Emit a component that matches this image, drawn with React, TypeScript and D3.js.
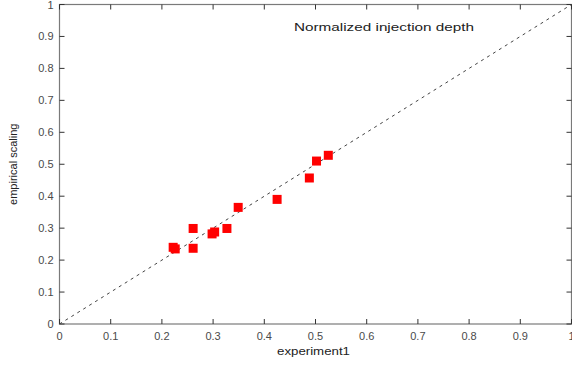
import React from "react";
import * as d3 from "d3";

// Measured vs. empirically scaled normalized injection depth
const experimentValues = [0.222, 0.226, 0.261, 0.261, 0.298, 0.303, 0.327, 0.349, 0.425, 0.488, 0.502, 0.525];
const scalingValues = [0.240, 0.235, 0.299, 0.237, 0.282, 0.288, 0.299, 0.365, 0.390, 0.457, 0.510, 0.528];
const tickValues = [0, 0.1, 0.2, 0.3, 0.4, 0.5, 0.6, 0.7, 0.8, 0.9, 1];
const tickLabels = ["0", "0.1", "0.2", "0.3", "0.4", "0.5", "0.6", "0.7", "0.8", "0.9", "1"];
const parityLine = [0, 1];

const W = 572;
const H = 365;
const left = 59.5;
const right = 571.5;
const top = 4.5;
const bottom = 324;

export default function App() {
  const x = d3.scaleLinear().domain([0, 1]).range([left, right]);
  const y = d3.scaleLinear().domain([0, 1]).range([bottom, top]);
  const line = d3
    .line<number>()
    .x((d) => x(d))
    .y((d) => y(d));

  const axisColor = "#7a7a7a";
  const textColor = "#4a4a4a";
  const font = "'Liberation Sans', Arial, sans-serif";
  const tickLen = 5;
  const sq = 9;

  return (
    <svg
      width={W}
      height={H}
      style={{ position: "absolute", left: 0, top: 0, background: "#fff" }}
      fontFamily={font}
    >
      {/* plot box */}
      <rect x={left} y={top} width={right - left} height={bottom - top} fill="none" stroke={axisColor} strokeWidth={1.2} />

      {/* inward ticks on all four sides */}
      {tickValues.map((t, i) => (
        <g key={"t" + i} stroke="#333" strokeWidth={1}>
          <line x1={x(t)} x2={x(t)} y1={bottom} y2={bottom - tickLen} />
          <line x1={x(t)} x2={x(t)} y1={top} y2={top + tickLen} />
          <line x1={left} x2={left + tickLen} y1={y(t)} y2={y(t)} />
          <line x1={right} x2={right - tickLen} y1={y(t)} y2={y(t)} />
        </g>
      ))}

      {/* x tick labels */}
      {tickValues.map((t, i) => (
        <text key={"xl" + i} x={x(t)} y={bottom + 16} textAnchor="middle" fontSize={11} fill={textColor}>
          {tickLabels[i]}
        </text>
      ))}

      {/* y tick labels */}
      {tickValues.map((t, i) => (
        <text key={"yl" + i} x={left - 6} y={y(t) + 4} textAnchor="end" fontSize={11} fill={textColor}>
          {tickLabels[i]}
        </text>
      ))}

      {/* y = x reference line */}
      <path d={line(parityLine) || ""} fill="none" stroke="#444" strokeWidth={1} strokeDasharray="3,4" />

      {/* data markers */}
      {experimentValues.map((v, i) => (
        <rect
          key={"p" + i}
          x={x(v) - sq / 2}
          y={y(scalingValues[i]) - sq / 2}
          width={sq}
          height={sq}
          fill="#ff0000"
        />
      ))}

      <text x={294} y={31} fontSize={11.5} fill="#222" textLength={180} lengthAdjust="spacingAndGlyphs">
        Normalized injection depth
      </text>

      <text x={277} y={355} fontSize={11} fill="#222" textLength={73} lengthAdjust="spacingAndGlyphs">
        experiment1
      </text>

      <text
        transform={`translate(17, ${(top + bottom) / 2}) rotate(-90)`}
        textAnchor="middle"
        fontSize={11}
        fill="#222"
      >
        empirical scaling
      </text>
    </svg>
  );
}
